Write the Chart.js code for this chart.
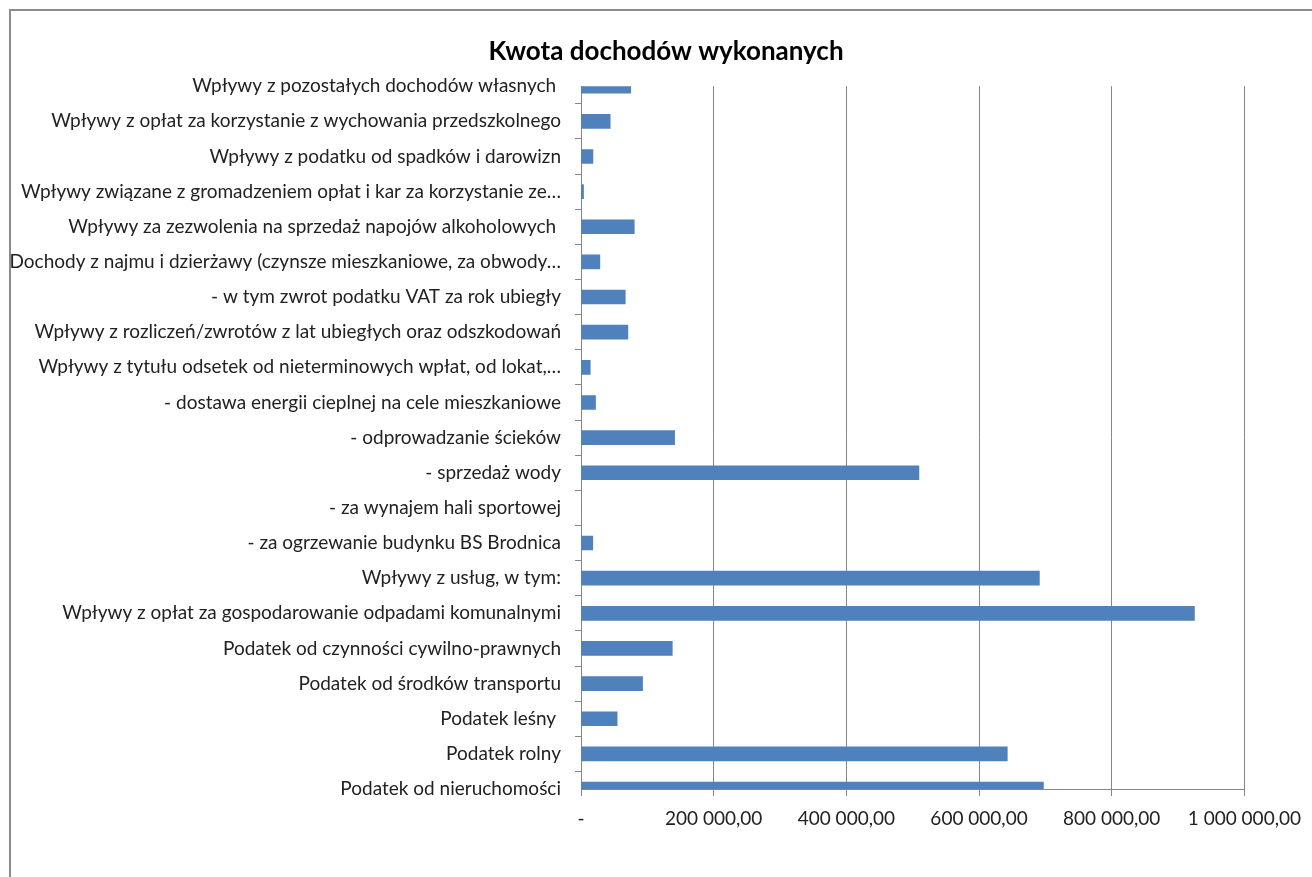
<!DOCTYPE html>
<html>
<head>
    <title>Kwota dochodów wykonanych</title>
    <script src="https://cdn.jsdelivr.net/npm/chart.js"></script>
    <style>
        body { margin: 0; overflow: hidden; background: #fff; }
        #frame { position: absolute; left: 9px; top: 9px; width: 1330px; height: 900px; border: 2px solid #8c8c8c; }
        #chart { position: absolute; left: 0; top: 0; }
    </style>
</head>
<body>
    <div id="frame"></div>
    <canvas id="chart" width="1312" height="877"></canvas>
    <script>
        const categories = [
            'Wpływy z pozostałych dochodów własnych ',
            'Wpływy z opłat za korzystanie z wychowania przedszkolnego',
            'Wpływy z podatku od spadków i darowizn',
            'Wpływy związane z gromadzeniem opłat i kar za korzystanie ze…',
            'Wpływy za zezwolenia na sprzedaż napojów alkoholowych ',
            'Dochody z najmu i dzierżawy (czynsze mieszkaniowe, za obwody…',
            '- w tym zwrot podatku VAT za rok ubiegły',
            'Wpływy z rozliczeń/zwrotów z lat ubiegłych oraz odszkodowań',
            'Wpływy z tytułu odsetek od nieterminowych wpłat, od lokat,…',
            '- dostawa energii cieplnej na cele mieszkaniowe',
            '- odprowadzanie ścieków',
            '- sprzedaż wody',
            '- za wynajem hali sportowej',
            '- za ogrzewanie budynku BS Brodnica',
            'Wpływy z usług, w tym:',
            'Wpływy z opłat za gospodarowanie odpadami komunalnymi',
            'Podatek od czynności cywilno-prawnych',
            'Podatek od środków transportu',
            'Podatek leśny ',
            'Podatek rolny',
            'Podatek od nieruchomości'
        ];

        const kwota = [
            75000, 44000, 18000, 3800, 80300, 28400, 66700, 70700, 13900, 21900,
            141100, 509400, 0, 17800, 691000, 924700, 137600, 92800, 54500, 642600, 697000
        ];

        const xTicks = [0, 200000, 400000, 600000, 800000, 1000000];

        function plFormat(v) {
            if (v === 0) return '-';
            const parts = v.toFixed(2).split('.');
            return parts[0].replace(/\B(?=(\d{3})+(?!\d))/g, ' ') + ',' + parts[1];
        }

        // the y labels are wider than the scale box, widen the label clip area
        const unclipLabels = {
            id: 'unclipLabels',
            afterLayout: chart => { chart.scales.y.left = 0; }
        };

        const ctx = document.getElementById('chart').getContext('2d');
        new Chart(ctx, {
            type: 'bar',
            data: {
                labels: categories,
                datasets: [{
                    label: 'Kwota dochodów wykonanych',
                    data: kwota,
                    backgroundColor: '#4f81bd',
                    barThickness: 14,
                    clip: 0
                }]
            },
            plugins: [unclipLabels],
            options: {
                indexAxis: 'y',
                responsive: false,
                animation: false,
                // left padding keeps the title centred where Excel put it
                layout: { padding: { left: 87, right: 67, top: 0, bottom: 38 } },
                plugins: {
                    legend: { display: false },
                    tooltip: { enabled: false },
                    title: {
                        display: true,
                        text: 'Kwota dochodów wykonanych',
                        color: '#000',
                        font: { family: 'Lato', size: 26, weight: 'bold', lineHeight: 1.2 },
                        padding: { top: 36, bottom: 19 }
                    }
                },
                scales: {
                    x: {
                        min: 0,
                        max: 1000000,
                        afterBuildTicks: scale => { scale.ticks = xTicks.map(v => ({ value: v })); },
                        ticks: {
                            callback: v => plFormat(v),
                            color: '#222',
                            font: { family: 'Lato', size: 19 },
                            padding: 11,
                            maxRotation: 0
                        },
                        grid: { color: '#868686', tickLength: 7 },
                        border: { color: '#868686' },
                        afterFit: scale => { scale.height = 50; }
                    },
                    y: {
                        offset: false,
                        ticks: {
                            color: '#222',
                            font: { family: 'Lato', size: 19 },
                            padding: 14,
                            autoSkip: false
                        },
                        grid: { drawOnChartArea: false, color: '#868686', tickLength: 6 },
                        border: { color: '#868686' },
                        afterFit: scale => { scale.width = 494; }
                    }
                }
            }
        });
    </script>
</body>
</html>
